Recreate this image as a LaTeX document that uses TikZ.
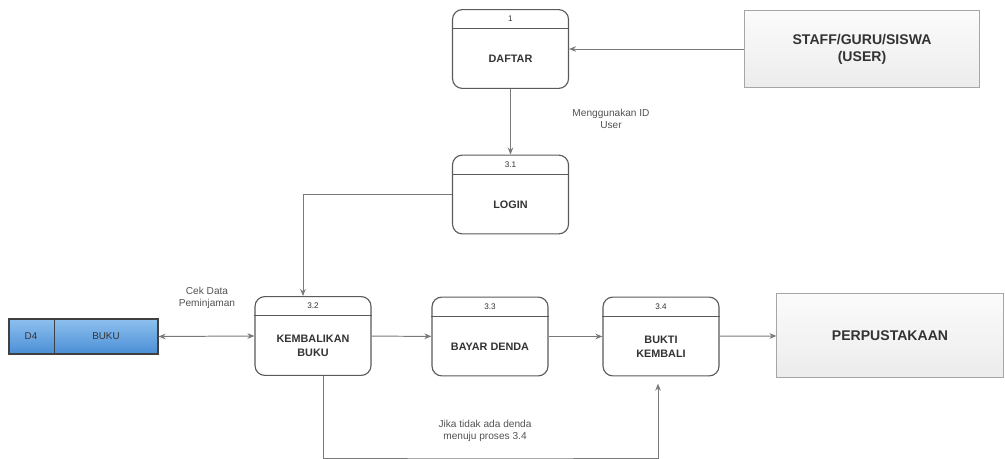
\documentclass[tikz,border=0pt]{standalone}
\usepackage{fontspec}
\setmainfont{Liberation Sans}
\usetikzlibrary{arrows.meta}

\definecolor{boxline}{HTML}{5A5A5A}
\definecolor{flowline}{HTML}{7A7A7A}
\definecolor{txtdark}{HTML}{333333}
\definecolor{storetop}{HTML}{8EC0EE}
\definecolor{storebot}{HTML}{4A8ED6}

\begin{document}
\begin{tikzpicture}[x=0.025cm,y=-0.025cm,
  proc/.style={draw=boxline,line width=0.8pt,rounded corners=7pt,fill=white,
    minimum width=2.9cm,minimum height=1.97cm},
  hdr/.style={draw=boxline,line width=0.6pt},
  num/.style={font=\fontsize{5.8}{6}\selectfont,text=txtdark,inner sep=0pt},
  title/.style={font=\fontsize{7.7}{10}\selectfont\bfseries,text=txtdark,align=center},
  entity/.style={draw=gray!70,line width=0.7pt,top color=gray!3,bottom color=gray!15,
    font=\fontsize{10}{12}\selectfont\bfseries,text=txtdark,align=center},
  note/.style={font=\fontsize{7.2}{9}\selectfont,text=txtdark!85,align=center},
  flow/.style={draw=flowline,line width=0.7pt,-{Stealth[length=5pt,width=4pt]}},
  flowboth/.style={draw=flowline,line width=0.7pt,{Stealth[length=5pt,width=4pt]}-{Stealth[length=5pt,width=4pt]}}]

\useasboundingbox (0,0) rectangle (1005,459);

% external entities
\node[entity,minimum width=5.85cm,minimum height=1.9cm] (user) at (862,49) {STAFF/GURU/SISWA\\(USER)};
\node[entity,minimum width=5.65cm,minimum height=2.12cm] (perpus) at (890,335.5) {PERPUSTAKAAN};

% data store
\node[draw=black!75,line width=0.8pt,top color=storetop,bottom color=storebot,
  minimum width=3.725cm,minimum height=0.875cm] (store) at (83.5,336.5) {};
\draw[black!75,line width=1pt] ([xshift=1.15cm]store.north west) -- ([xshift=1.15cm]store.south west);
\node[font=\fontsize{7}{8}\selectfont,text=txtdark] (store-id) at (31,336.5) {D4};
\node[font=\fontsize{7}{8}\selectfont,text=txtdark] (store-name) at (106,336.5) {BUKU};

% processes
\foreach \n/\x/\y/\num/\txt in {daftar/510.5/49/1/DAFTAR, login/510.5/194.5/3.1/LOGIN,
    kembali/313/336/3.2/{KEMBALIKAN\\BUKU}, denda/490/336.5/3.3/{BAYAR DENDA},
    bukti/661/336.5/3.4/{BUKTI\\KEMBALI}} {
  \node[proc] (\n) at (\x,\y) {};
  \draw[hdr] ([yshift=-0.49cm]\n.north west) -- ([yshift=-0.49cm]\n.north east);
  \node[num] (\n-num) at ([yshift=-0.25cm]\n.north) {\num};
  \node[title] (\n-txt) at ([yshift=-0.25cm]\n.center) {\txt};
}

% flows
\draw[flow] (user.west) -- (daftar.east);
\draw[flow] (daftar) -- (login);
\draw[flow] (login.west) -| ([xshift=-0.25cm]kembali.north);
\draw[flowboth] (store.east) -- (kembali.west);
\draw[flow] (kembali) -- (denda);
\draw[flow] (denda) -- (bukti);
\draw[flow] (bukti) -- (perpus);
\coordinate (loopbase) at (490,458);
\draw[flow] ([xshift=0.25cm]kembali.south) |- (loopbase) -| ([xshift=-0.075cm,yshift=-0.18cm]bukti.south);

% labels
\node[note] (lbl-id) at (611,119) {Menggunakan ID\\User};
\node[note] (lbl-cek) at (207,298) {Cek Data\\Peminjaman};
\node[note] (lbl-jika) at (485,431) {Jika tidak ada denda\\menuju proses 3.4};

\end{tikzpicture}
\end{document}
